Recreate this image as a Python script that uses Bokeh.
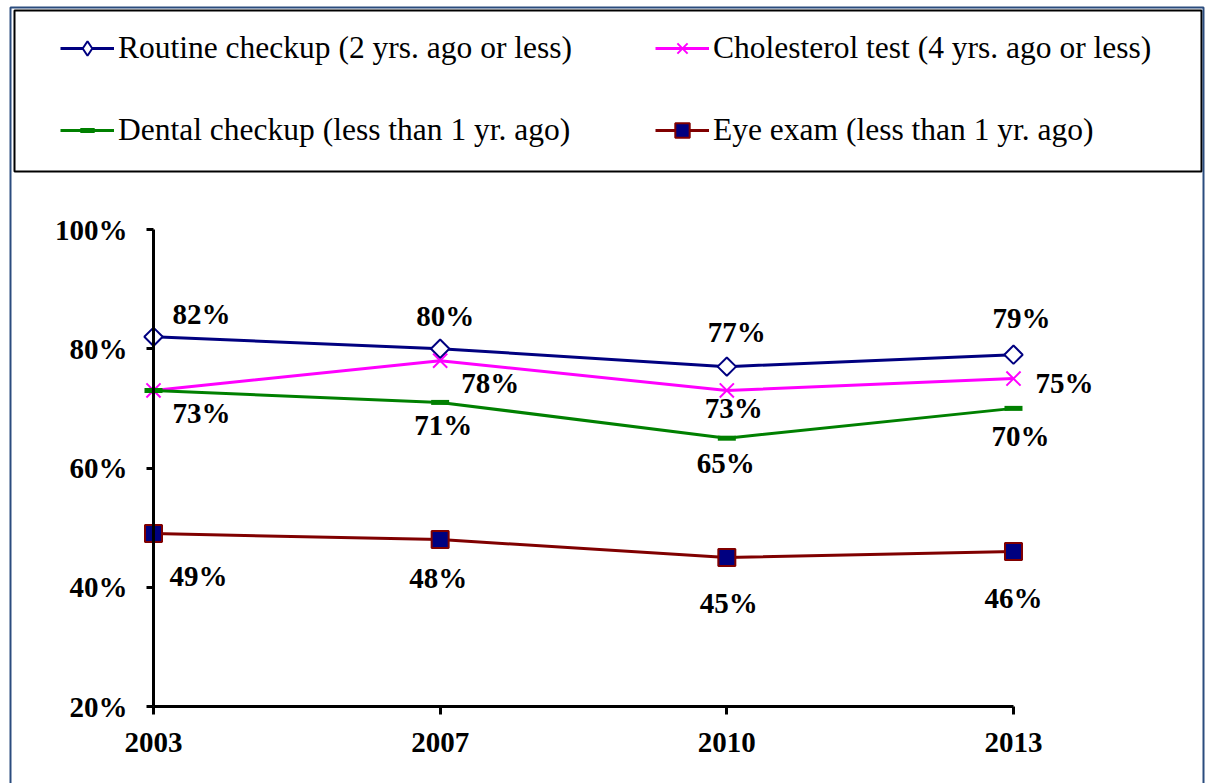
import numpy as np
from bokeh.plotting import figure
from bokeh.models import (Range1d, FixedTicker, NumeralTickFormatter, Legend, LegendItem,
                          ColumnDataSource, BoxAnnotation)
from bokeh.embed import file_html
from bokeh.resources import INLINE
from bokeh.core.properties import value

# ---- data ----
years = ["2003", "2007", "2010", "2013"]
routine = [0.82, 0.80, 0.77, 0.79]
cholesterol = [0.73, 0.78, 0.73, 0.75]
dental = [0.73, 0.71, 0.65, 0.70]
eye = [0.49, 0.48, 0.45, 0.46]
series_names = ["Routine checkup (2 yrs. ago or less)",
                "Cholesterol test (4 yrs. ago or less)",
                "Dental checkup (less than 1 yr. ago)",
                "Eye exam (less than 1 yr. ago)"]
y_ticks = [0.2, 0.4, 0.6, 0.8, 1.0]

# ---- label placement (screen px offsets) ----
routine_off = [(48, -23), (5, -33), (10, -35), (8, -37)]
chol_off = [(48, 23), (50, 22), (7, 18), (51, 4)]
dental_off = [(48, 23), (3, 23), (-1, 25), (7, 28)]
eye_off = [(45, 42), (-2, 38), (2, 46), (0, 47)]
chol_show = [False, True, True, True]

FONT = "Liberation Serif"
xs = list(range(len(years)))

W, H = 1205, 783
p = figure(width=W, height=H, output_backend="svg", toolbar_location=None,
           x_range=Range1d(-0.5337, 3.6698), y_range=Range1d(0.07086, 1.38407),
           min_border_left=0, min_border_bottom=0, min_border_top=0, min_border_right=0,
           title=None)
p.outline_line_color = None
p.grid.visible = False
p.background_fill_color = "white"
p.border_fill_color = "white"

for ax in (p.xaxis[0], p.yaxis[0]):
    ax.axis_line_width = 3
    ax.axis_line_color = "black"
    ax.major_tick_line_width = 3
    ax.major_tick_line_color = "black"
    ax.major_tick_in = 0
    ax.minor_tick_line_color = None
    ax.major_label_text_font = FONT
    ax.major_label_text_font_style = "bold"
    ax.major_label_text_font_size = "29px"
    ax.major_label_text_color = "black"

p.xaxis[0].ticker = FixedTicker(ticks=xs)
p.xaxis[0].major_label_overrides = {i: y for i, y in enumerate(years)}
p.xaxis[0].bounds = (0, 3)
p.xaxis[0].fixed_location = 0.2
p.xaxis[0].major_tick_out = 8
p.xaxis[0].major_label_standoff = 18

p.yaxis[0].ticker = FixedTicker(ticks=y_ticks)
p.yaxis[0].formatter = NumeralTickFormatter(format="0%")
p.yaxis[0].bounds = (0.2, 1.0)
p.yaxis[0].fixed_location = 0
p.yaxis[0].major_tick_out = 7
p.yaxis[0].major_label_standoff = 19

items = []

def add_series(vals, name, color, marker, msize, mfill, mline, mlw, angle=0.0, legend_marker=None):
    src = ColumnDataSource(dict(x=xs, y=vals))
    lr = p.line("x", "y", source=src, line_color=color, line_width=3)
    rs = [lr]
    if legend_marker is not None:
        # upright diamond for the key; in the plot it sits fully under the main marker
        lm = p.scatter("x", "y", source=src, marker=legend_marker, size=12,
                       fill_color=mfill, line_color=mline, line_width=mlw)
        rs.append(lm)
    sr = p.scatter("x", "y", source=src, marker=marker, size=msize, angle=angle,
                   fill_color=mfill, line_color=mline, line_width=mlw)
    if legend_marker is None:
        rs.append(sr)
    items.append(LegendItem(label=name, renderers=rs))

add_series(routine, series_names[0], "#000080", "square", 13, "white", "#000080", 2,
           angle=np.pi / 4, legend_marker="diamond")
add_series(cholesterol, series_names[1], "#FF00FF", "x", 20, None, "#FF00FF", 2)
add_series(dental, series_names[2], "#008000", "dash", 18, None, "#008000", 5)
add_series(eye, series_names[3], "#800000", "square", 17, "#000080", "#800000", 2)

def add_labels(vals, offs, show=None):
    if show is None:
        show = [True] * len(vals)
    sel = [i for i in range(len(vals)) if show[i]]
    src = ColumnDataSource(dict(
        x=[xs[i] for i in sel], y=[vals[i] for i in sel],
        t=["%d%%" % round(vals[i] * 100) for i in sel],
        dx=[offs[i][0] for i in sel], dy=[offs[i][1] for i in sel]))
    p.text("x", "y", text="t", source=src, x_offset="dx", y_offset="dy",
           text_align="center", text_baseline="middle",
           text_font=value(FONT), text_font_style="bold", text_font_size="29px",
           text_color="black")

add_labels(routine, routine_off)
add_labels(cholesterol, chol_off, chol_show)
add_labels(dental, dental_off)
add_labels(eye, eye_off)

legend = Legend(items=items, orientation="horizontal", ncols=2,
                location=(60, 635), padding=0, spacing=46,
                glyph_width=54, glyph_height=36, label_height=36, label_width=491,
                label_standoff=4, label_text_font=FONT, label_text_font_size="31.5px",
                label_text_color="black", border_line_color=None,
                background_fill_alpha=0)
p.add_layout(legend, "center")

# legend frame and outer chart frame (screen units, from the bottom-left of the canvas)
p.add_layout(BoxAnnotation(left=14, right=1201, top=773, bottom=612,
                           left_units="screen", right_units="screen",
                           top_units="screen", bottom_units="screen",
                           fill_alpha=0, line_color="black", line_width=2, line_alpha=1))
p.add_layout(BoxAnnotation(left=10, right=1203, top=776, bottom=-20,
                           left_units="screen", right_units="screen",
                           top_units="screen", bottom_units="screen",
                           fill_alpha=0, line_color="#2B4C7E", line_width=2, line_alpha=1))

open("out.html", "w").write(file_html(p, INLINE))
